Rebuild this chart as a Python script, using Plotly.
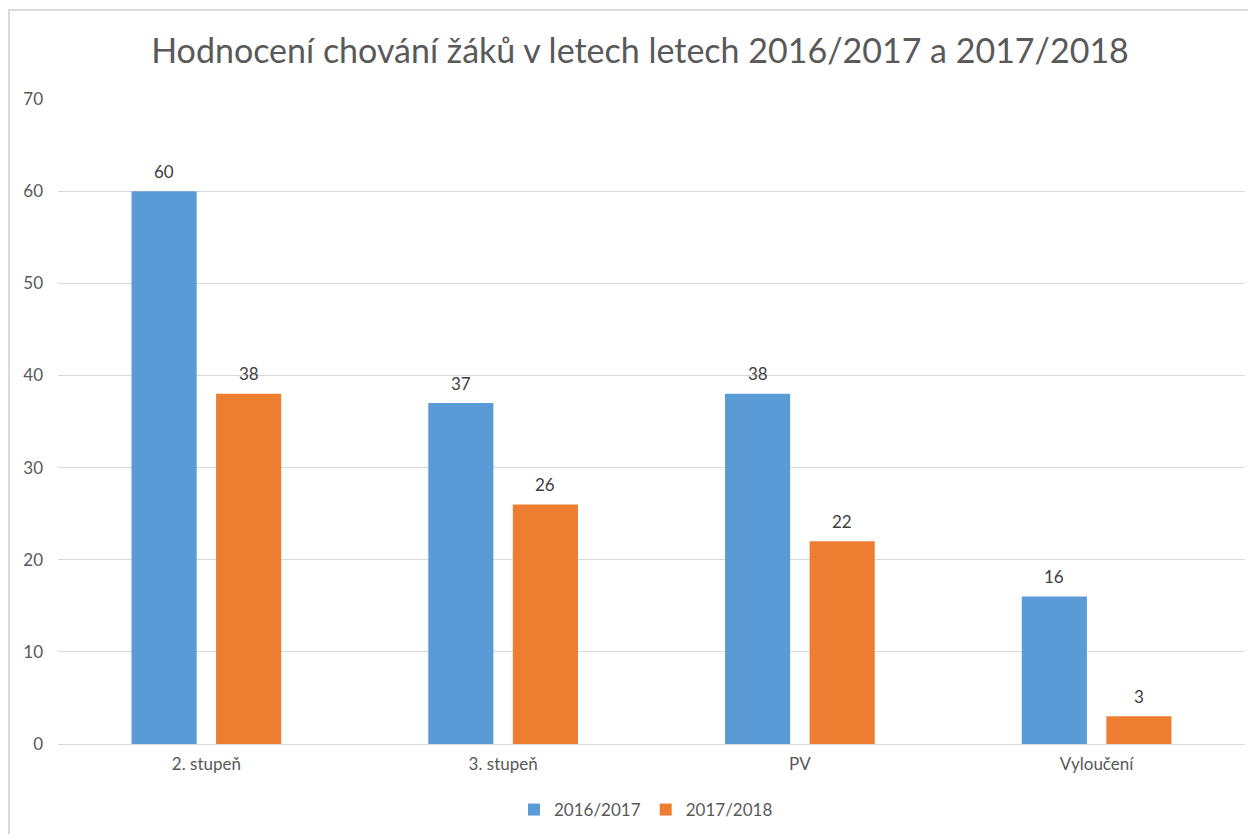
import plotly.graph_objects as go

categories = ["2. stupeň", "3. stupeň", "PV", "Vyloučení"]
values_2016 = [60, 37, 38, 16]
values_2017 = [38, 26, 22, 3]
series_names = ["2016/2017", "2017/2018"]

# page body adds 8px margin, so figure is drawn 8px smaller
W, H = 1248, 826
ml, mr, mt, mb = 50, 11, 91, 90
pw = W - ml - mr
ph = H - mt - mb

font_family = "Lato, 'Open Sans', sans-serif"
bargap, groupgap = 0.43, 0.23

fig = go.Figure()
fig.add_trace(go.Bar(x=categories, y=values_2016, name=series_names[0],
                     marker=dict(color="#5B9BD5", line=dict(width=0))))
fig.add_trace(go.Bar(x=categories, y=values_2017, name=series_names[1],
                     marker=dict(color="#ED7D31", line=dict(width=0))))

# data labels above bars, centred on each bar of the group
slot_px = pw / len(categories) * (1 - bargap) / 2
for i, vals in enumerate([values_2016, values_2017]):
    shift = (i - 0.5) * slot_px
    for cat, v in zip(categories, vals):
        fig.add_annotation(x=cat, y=v, xref="x", yref="y", text=str(v),
                           showarrow=False, xshift=shift, yshift=20,
                           yanchor="middle",
                           font=dict(size=17, color="#404040"))

# chart frame (left and top edges visible, rest out of view)
fig.add_shape(type="rect", xref="paper", yref="paper",
              x0=(1 - ml) / pw, x1=1.2,
              y0=-0.4, y1=1 + (mt - 2) / ph,
              line=dict(color="#D9D9D9", width=2), layer="below")

fig.update_layout(
    width=W, height=H,
    margin=dict(l=ml, r=mr, t=mt, b=mb, autoexpand=False),
    paper_bgcolor="white", plot_bgcolor="white",
    font=dict(family=font_family, color="#595959"),
    title=dict(text="Hodnocení chování žáků v letech letech 2016/2017 a 2017/2018",
               x=632 / W, xref="container", xanchor="center",
               y=1 - 43 / H, yref="container", yanchor="middle",
               font=dict(size=34, color="#595959")),
    barmode="group", bargap=bargap, bargroupgap=groupgap,
    showlegend=True,
    legend=dict(orientation="h", x=638 / W, xref="container", xanchor="center",
                y=1 - 802 / H, yref="container", yanchor="middle",
                font=dict(size=17, color="#595959"),
                itemwidth=30, traceorder="normal"),
    xaxis=dict(showgrid=False, showline=False, ticks="", automargin=False,
               ticklabelstandoff=8,
               tickfont=dict(size=17, color="#595959")),
    yaxis=dict(range=[0, 70], dtick=10, showgrid=True, gridcolor="#D9D9D9",
               gridwidth=1, zeroline=True, zerolinecolor="#D9D9D9",
               zerolinewidth=1, showline=False, ticks="", automargin=False,
               ticklabelstandoff=14,
               tickfont=dict(size=17, color="#595959")),
)

fig.write_html("out.html")
